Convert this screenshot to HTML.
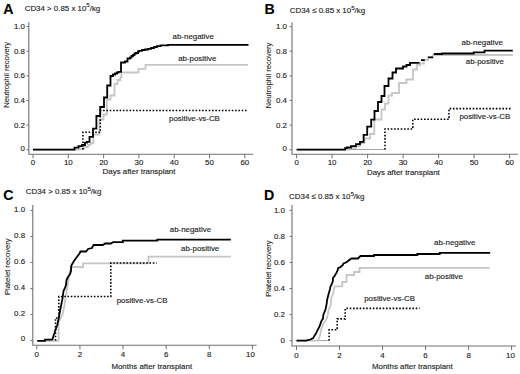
<!DOCTYPE html>
<html><head><meta charset="utf-8"><style>
html,body{margin:0;padding:0;background:#fff;}
svg{display:block;}
text{font-family:"Liberation Sans", sans-serif;font-size:7.9px;fill:#1e1e1e;stroke:#1e1e1e;stroke-width:0.14px;}
</style></head><body>
<svg width="520" height="374" viewBox="0 0 520 374">
<rect width="520" height="374" fill="#fff"/>
<path d="M28.85,22.2 V154.3 H253.2" fill="none" stroke="#707070" stroke-width="1.1"/>
<line x1="26.450000000000003" y1="149.70" x2="28.85" y2="149.70" stroke="#707070" stroke-width="1"/>
<text x="24.950000000000003" y="150.70" text-anchor="end">0</text>
<line x1="26.450000000000003" y1="125.08" x2="28.85" y2="125.08" stroke="#707070" stroke-width="1"/>
<text x="24.950000000000003" y="127.73" text-anchor="end">0.2</text>
<line x1="26.450000000000003" y1="100.46" x2="28.85" y2="100.46" stroke="#707070" stroke-width="1"/>
<text x="24.950000000000003" y="103.11" text-anchor="end">0.4</text>
<line x1="26.450000000000003" y1="75.84" x2="28.85" y2="75.84" stroke="#707070" stroke-width="1"/>
<text x="24.950000000000003" y="78.49" text-anchor="end">0.6</text>
<line x1="26.450000000000003" y1="51.22" x2="28.85" y2="51.22" stroke="#707070" stroke-width="1"/>
<text x="24.950000000000003" y="53.87" text-anchor="end">0.8</text>
<line x1="26.450000000000003" y1="26.60" x2="28.85" y2="26.60" stroke="#707070" stroke-width="1"/>
<text x="24.950000000000003" y="29.25" text-anchor="end">1.0</text>
<line x1="33.00" y1="154.3" x2="33.00" y2="158.3" stroke="#707070" stroke-width="1"/>
<text x="33.00" y="165.10000000000002" text-anchor="middle">0</text>
<line x1="68.30" y1="154.3" x2="68.30" y2="158.3" stroke="#707070" stroke-width="1"/>
<text x="68.30" y="165.10000000000002" text-anchor="middle">10</text>
<line x1="103.60" y1="154.3" x2="103.60" y2="158.3" stroke="#707070" stroke-width="1"/>
<text x="103.60" y="165.10000000000002" text-anchor="middle">20</text>
<line x1="138.90" y1="154.3" x2="138.90" y2="158.3" stroke="#707070" stroke-width="1"/>
<text x="138.90" y="165.10000000000002" text-anchor="middle">30</text>
<line x1="174.20" y1="154.3" x2="174.20" y2="158.3" stroke="#707070" stroke-width="1"/>
<text x="174.20" y="165.10000000000002" text-anchor="middle">40</text>
<line x1="209.50" y1="154.3" x2="209.50" y2="158.3" stroke="#707070" stroke-width="1"/>
<text x="209.50" y="165.10000000000002" text-anchor="middle">50</text>
<line x1="244.80" y1="154.3" x2="244.80" y2="158.3" stroke="#707070" stroke-width="1"/>
<text x="244.80" y="165.10000000000002" text-anchor="middle">60</text>
<text x="102.6" y="174.4">Days after transplant</text>
<text transform="translate(8.7,74.8) rotate(-90) scale(1,0.9)" text-anchor="middle" style="stroke-width:0.1px;font-size:7.6px">Neutrophil recovery</text>
<text x="3.3" y="13.9" style="font-weight:bold;font-size:14.2px;fill:#000">A</text>
<text x="24.7" y="10.9">CD34 &gt; 0.85 x 10<tspan dy="-3.6" style="font-size:6.1px">5</tspan><tspan dy="3.6">/kg</tspan></text>
<path d="M33,149.7 H80 V148.5 H84 V147 H88 V145 H90.5 V143.3 H93.3 V134.5 H99.5 V119.5 H103.5 V114.5 H106.8 V99.5 H110.5 V95.5 H114.5 V84 H117.5 V80 H120.5 V77 H121.5 V72.5 H138.5 V68.8 H145.5 V64.8 H248" fill="none" stroke="#c6c6c6" stroke-width="1.8"/>
<path d="M82.9,149.7 V132.3 H100.3 V110.5 H247.5" fill="none" stroke="#000" stroke-width="1.6" stroke-dasharray="1.6 1.7"/>
<path d="M33,149.7 H74.5 V147.7 H78.5 V146.2 H82 V145 H85 V142.7 H87 V141.8 H89.5 V136.8 H93 V128.6 H96.4 V116 H100.2 V107 H104 V97.5 H107.2 V85.5 H110.5 V76 H113 V74.5 H115 V73.5 H117 V72.5 H118.5 V71.8 H121 V62.5 H125 V61.5 H127.5 V58.5 H130 V57.5 H131.5 V56 H133 V55 H134.5 V53.5 H136 V53 H138 V51.5 H139 V50.8 H142 V50 H145 V49.5 H148 V48.8 H151 V48 H154 V47 H157 V46.2 H160.5 V45.3 H168 V44.85 H248.5" fill="none" stroke="#000" stroke-width="1.8" stroke-linejoin="miter"/>
<text x="172.6" y="39.2">ab-negative</text>
<text x="178.2" y="61.1">ab-positive</text>
<text x="169" y="120.8">positive-vs-CB</text>
<path d="M292,22.2 V154.3 H518" fill="none" stroke="#707070" stroke-width="1.1"/>
<line x1="289.6" y1="149.70" x2="292" y2="149.70" stroke="#707070" stroke-width="1"/>
<text x="287.0" y="151.35" text-anchor="end">0</text>
<line x1="289.6" y1="125.08" x2="292" y2="125.08" stroke="#707070" stroke-width="1"/>
<text x="287.0" y="127.73" text-anchor="end">0.2</text>
<line x1="289.6" y1="100.46" x2="292" y2="100.46" stroke="#707070" stroke-width="1"/>
<text x="287.0" y="103.11" text-anchor="end">0.4</text>
<line x1="289.6" y1="75.84" x2="292" y2="75.84" stroke="#707070" stroke-width="1"/>
<text x="287.0" y="78.49" text-anchor="end">0.6</text>
<line x1="289.6" y1="51.22" x2="292" y2="51.22" stroke="#707070" stroke-width="1"/>
<text x="287.0" y="53.87" text-anchor="end">0.8</text>
<line x1="289.6" y1="26.60" x2="292" y2="26.60" stroke="#707070" stroke-width="1"/>
<text x="287.0" y="29.25" text-anchor="end">1.0</text>
<line x1="296.60" y1="154.3" x2="296.60" y2="158.3" stroke="#707070" stroke-width="1"/>
<text x="296.60" y="165.10000000000002" text-anchor="middle">0</text>
<line x1="332.10" y1="154.3" x2="332.10" y2="158.3" stroke="#707070" stroke-width="1"/>
<text x="332.10" y="165.10000000000002" text-anchor="middle">10</text>
<line x1="367.60" y1="154.3" x2="367.60" y2="158.3" stroke="#707070" stroke-width="1"/>
<text x="367.60" y="165.10000000000002" text-anchor="middle">20</text>
<line x1="403.10" y1="154.3" x2="403.10" y2="158.3" stroke="#707070" stroke-width="1"/>
<text x="403.10" y="165.10000000000002" text-anchor="middle">30</text>
<line x1="438.60" y1="154.3" x2="438.60" y2="158.3" stroke="#707070" stroke-width="1"/>
<text x="438.60" y="165.10000000000002" text-anchor="middle">40</text>
<line x1="474.10" y1="154.3" x2="474.10" y2="158.3" stroke="#707070" stroke-width="1"/>
<text x="474.10" y="165.10000000000002" text-anchor="middle">50</text>
<line x1="509.60" y1="154.3" x2="509.60" y2="158.3" stroke="#707070" stroke-width="1"/>
<text x="509.60" y="165.10000000000002" text-anchor="middle">60</text>
<text x="367" y="175.2">Days after transplant</text>
<text transform="translate(270.6,75.5) rotate(-90) scale(1,0.9)" text-anchor="middle" style="stroke-width:0.1px;font-size:7.6px">Neutrophil recovery</text>
<text x="264.6" y="13.8" style="font-weight:bold;font-size:14.2px;fill:#000">B</text>
<text x="289.8" y="13.4">CD34 ≤ 0.85 x 10<tspan dy="-3.6" style="font-size:6.1px">5</tspan><tspan dy="3.6">/kg</tspan></text>
<path d="M345,149.5 H385" fill="none" stroke="#9a9a9a" stroke-width="0.9"/>
<path d="M296.6,149.6 H350 V148 H356 V146 H360 V143 H364.5 V138.5 H370 V134 H374.3 V119.5 H381.5 V109.5 H385 V103.5 H388.5 V95.5 H392 V93 H399 V83 H406.5 V79.5 H413 V69.5 H417 V65 H420 V63.5 H424 V60 H428 V57 H433 V55 H512.8" fill="none" stroke="#c6c6c6" stroke-width="1.8"/>
<path d="M385,149.6 V129 H412.8 V119.3 H449 V108.6 H512.3" fill="none" stroke="#000" stroke-width="1.6" stroke-dasharray="1.6 1.7"/>
<path d="M296.6,149.6 H345.1 V148.2 H347 V147.5 H351 V146.1 H355.9 V144.1 H360 V141.8 H363.6 V134.8 H367.2 V126.7 H371.2 V119.7 H374.5 V111 H378 V102 H381.5 V96 H384.5 V86 H388.5 V78.5 H392.5 V72.5 H396 V68.5 H403 V66.5 H406.5 V65 H410 V62.8 H419.5 M420.9,60.2 H424.7 M428.2,57.4 H433 M433.8,54 H442 V53.5 H473.7 V52.3 H484.5 V50.7 H512.8" fill="none" stroke="#000" stroke-width="1.8" stroke-linejoin="miter"/>
<text x="461.6" y="44.5">ab-negative</text>
<text x="465.8" y="64.3">ab-positive</text>
<text x="459.4" y="118.7">positive-vs-CB</text>
<path d="M32.8,205 V345.3 H256.6" fill="none" stroke="#707070" stroke-width="1.1"/>
<line x1="30.4" y1="340.60" x2="32.8" y2="340.60" stroke="#707070" stroke-width="1"/>
<text x="25.099999999999998" y="341.10" text-anchor="end">0</text>
<line x1="30.4" y1="314.56" x2="32.8" y2="314.56" stroke="#707070" stroke-width="1"/>
<text x="25.099999999999998" y="315.66" text-anchor="end">0.2</text>
<line x1="30.4" y1="288.52" x2="32.8" y2="288.52" stroke="#707070" stroke-width="1"/>
<text x="25.099999999999998" y="289.62" text-anchor="end">0.4</text>
<line x1="30.4" y1="262.48" x2="32.8" y2="262.48" stroke="#707070" stroke-width="1"/>
<text x="25.099999999999998" y="263.58" text-anchor="end">0.6</text>
<line x1="30.4" y1="236.44" x2="32.8" y2="236.44" stroke="#707070" stroke-width="1"/>
<text x="25.099999999999998" y="237.54" text-anchor="end">0.8</text>
<line x1="30.4" y1="210.40" x2="32.8" y2="210.40" stroke="#707070" stroke-width="1"/>
<text x="25.099999999999998" y="211.50" text-anchor="end">1.0</text>
<line x1="36.80" y1="345.3" x2="36.80" y2="349.3" stroke="#707070" stroke-width="1"/>
<text x="36.80" y="356.8" text-anchor="middle">0</text>
<line x1="79.92" y1="345.3" x2="79.92" y2="349.3" stroke="#707070" stroke-width="1"/>
<text x="79.92" y="356.8" text-anchor="middle">2</text>
<line x1="123.04" y1="345.3" x2="123.04" y2="349.3" stroke="#707070" stroke-width="1"/>
<text x="123.04" y="356.8" text-anchor="middle">4</text>
<line x1="166.16" y1="345.3" x2="166.16" y2="349.3" stroke="#707070" stroke-width="1"/>
<text x="166.16" y="356.8" text-anchor="middle">6</text>
<line x1="209.28" y1="345.3" x2="209.28" y2="349.3" stroke="#707070" stroke-width="1"/>
<text x="209.28" y="356.8" text-anchor="middle">8</text>
<line x1="252.40" y1="345.3" x2="252.40" y2="349.3" stroke="#707070" stroke-width="1"/>
<text x="250.40" y="356.8" text-anchor="middle">10</text>
<text x="111.4" y="369.0">Months after transplant</text>
<text transform="translate(10.3,266.8) rotate(-90) scale(1,0.9)" text-anchor="middle" style="stroke-width:0.1px;font-size:7.6px">Platelet recovery</text>
<text x="3.3" y="200.0" style="font-weight:bold;font-size:14.2px;fill:#000">C</text>
<text x="25.8" y="194.3">CD34 &gt; 0.85 x 10<tspan dy="-3.6" style="font-size:6.1px">5</tspan><tspan dy="3.6">/kg</tspan></text>
<path d="M37.2,340.8 H58.6 V322 L62.5,315 L64.3,306 L66.5,292 L68.5,280 L69.5,274 L71.1,267 H83.1 V263.4 H148.4 V256.6 H230.8" fill="none" stroke="#c6c6c6" stroke-width="1.8"/>
<path d="M55.5,340.6 V318 H58.8 V296.5 H110.8 V263 H156.7" fill="none" stroke="#000" stroke-width="1.6" stroke-dasharray="1.6 1.7"/>
<path d="M37.2,340.8 H45 V339.7 H52 L52.6,339 L53.5,335.8 L54.6,332.7 L55.6,329.5 L57.3,325 L58.8,318 L60.2,310 L61.2,305 L62.2,300 L62.7,297 L63.5,291 L65,288 L66,285 L66.5,280 L68,277 L70,274 L71,271 L71.3,265.5 L74,261 L75,259.5 L78,255.5 L79.5,253.5 L80.5,251.5 H86 L88,249 L92,248 L93.5,245 H103 L105,243.5 H111 L113,242.2 H122.8 V240.6 H157.3 V239.6 H230.8" fill="none" stroke="#000" stroke-width="1.8" stroke-linejoin="miter"/>
<text x="169.8" y="231.8">ab-negative</text>
<text x="181.1" y="250.9">ab-positive</text>
<text x="116.7" y="302.9">positive-vs-CB</text>
<path d="M292,205 V346 H516" fill="none" stroke="#707070" stroke-width="1.1"/>
<line x1="289.6" y1="340.60" x2="292" y2="340.60" stroke="#707070" stroke-width="1"/>
<text x="284.9" y="342.60" text-anchor="end">0</text>
<line x1="289.6" y1="314.56" x2="292" y2="314.56" stroke="#707070" stroke-width="1"/>
<text x="284.9" y="317.21" text-anchor="end">0.2</text>
<line x1="289.6" y1="288.52" x2="292" y2="288.52" stroke="#707070" stroke-width="1"/>
<text x="284.9" y="291.17" text-anchor="end">0.4</text>
<line x1="289.6" y1="262.48" x2="292" y2="262.48" stroke="#707070" stroke-width="1"/>
<text x="284.9" y="265.13" text-anchor="end">0.6</text>
<line x1="289.6" y1="236.44" x2="292" y2="236.44" stroke="#707070" stroke-width="1"/>
<text x="284.9" y="239.09" text-anchor="end">0.8</text>
<line x1="289.6" y1="210.40" x2="292" y2="210.40" stroke="#707070" stroke-width="1"/>
<text x="284.9" y="213.05" text-anchor="end">1.0</text>
<line x1="296.50" y1="346" x2="296.50" y2="350" stroke="#707070" stroke-width="1"/>
<text x="296.50" y="357.7" text-anchor="middle">0</text>
<line x1="339.52" y1="346" x2="339.52" y2="350" stroke="#707070" stroke-width="1"/>
<text x="339.52" y="357.7" text-anchor="middle">2</text>
<line x1="382.54" y1="346" x2="382.54" y2="350" stroke="#707070" stroke-width="1"/>
<text x="382.54" y="357.7" text-anchor="middle">4</text>
<line x1="425.56" y1="346" x2="425.56" y2="350" stroke="#707070" stroke-width="1"/>
<text x="425.56" y="357.7" text-anchor="middle">6</text>
<line x1="468.58" y1="346" x2="468.58" y2="350" stroke="#707070" stroke-width="1"/>
<text x="468.58" y="357.7" text-anchor="middle">8</text>
<line x1="511.60" y1="346" x2="511.60" y2="350" stroke="#707070" stroke-width="1"/>
<text x="510.40" y="357.7" text-anchor="middle">10</text>
<text x="372" y="369.4">Months after transplant</text>
<text transform="translate(270.8,268.6) rotate(-90) scale(1,0.9)" text-anchor="middle" style="stroke-width:0.1px;font-size:7.6px">Platelet recovery</text>
<text x="263.9" y="200.1" style="font-weight:bold;font-size:14.2px;fill:#000">D</text>
<text x="289.1" y="199.2">CD34 ≤ 0.85 x 10<tspan dy="-3.6" style="font-size:6.1px">5</tspan><tspan dy="3.6">/kg</tspan></text>
<path d="M313.2,340.6 H329" fill="none" stroke="#9a9a9a" stroke-width="0.9"/>
<path d="M296.5,340.6 H318 L320.1,335.2 L321.2,329.4 L322.6,325.8 L324,322.2 L325.5,320.8 L326.6,318.6 L327.7,315 L329,308.4 L330.8,305.7 L331.1,300.3 L331.6,296.6 L333,294.5 L333.8,290 L334.7,286.3 H342.3 V282 H346.5 V275 H354 V272 H359.5 V267.8 H489.6" fill="none" stroke="#c6c6c6" stroke-width="1.8"/>
<path d="M329.1,340.6 V329.8 H337.2 V318.9 H345.2 V308.4 H419.6" fill="none" stroke="#000" stroke-width="1.6" stroke-dasharray="1.6 1.7"/>
<path d="M296.5,340.6 H306 L310.3,339.5 L313.2,338.1 L314.3,335.9 L315.7,334.1 L317.2,330.9 L319.4,326.6 L320.8,322.9 L321.5,320.8 L323,318.6 L323.3,315 L325.5,309.6 L326.7,303.6 L327.1,300 L328.4,294.7 L330,289 L330.4,286.7 L331.7,284.2 L332.9,281 L332.9,278.2 L334.9,275.4 L336.5,272.6 L337.7,270.2 L338.1,268.2 L340.5,267 L342.9,265 L343.5,263.5 L346,262.5 L348,261 L351.5,258.5 H358 L360.5,256 H374 V255 H417.3 V254 H439.7 V252.8 H490.2" fill="none" stroke="#000" stroke-width="1.8" stroke-linejoin="miter"/>
<text x="434.1" y="245.4">ab-negative</text>
<text x="424.8" y="278.7">ab-positive</text>
<text x="364.2" y="301.0">positive-vs-CB</text>
</svg>
</body></html>
